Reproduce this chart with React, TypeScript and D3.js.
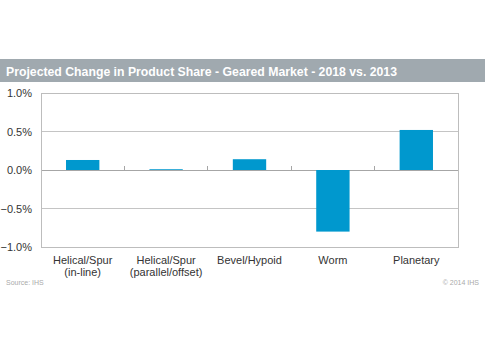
import React, { useEffect, useRef } from "react";
import * as d3 from "d3";

// data
const categories = [
  "Helical/Spur\n(in-line)",
  "Helical/Spur\n(parallel/offset)",
  "Bevel/Hypoid",
  "Worm",
  "Planetary",
];
const shareChange = [0.13, 0.01, 0.14, -0.8, 0.52];
const yTicks = [-1.0, -0.5, 0.0, 0.5, 1.0];

const W = 485;
const H = 350;

const App: React.FC = () => {
  const ref = useRef<SVGSVGElement | null>(null);

  useEffect(() => {
    const svg = d3.select(ref.current);
    svg.selectAll("*").remove();

    const left = 41;
    const right = 458;
    const top = 93;
    const bottom = 247;
    const font = "'Liberation Sans', Arial, sans-serif";

    // title band
    svg
      .append("rect")
      .attr("x", 0)
      .attr("y", 59)
      .attr("width", W)
      .attr("height", 23)
      .attr("fill", "#a0a9af");
    svg
      .append("text")
      .attr("x", 6)
      .attr("y", 76)
      .attr("fill", "#fff")
      .style("font-family", font)
      .style("font-size", "13px")
      .style("font-weight", "bold")
      .attr("textLength", 391)
      .attr("lengthAdjust", "spacingAndGlyphs")
      .text("Projected Change in Product Share - Geared Market - 2018 vs. 2013");

    const x = d3
      .scaleBand<number>()
      .domain(d3.range(categories.length))
      .range([left, right])
      .paddingInner(0.6)
      .paddingOuter(0.3);

    const y = d3.scaleLinear().domain([-1, 1]).range([bottom, top]);

    // gridlines
    svg
      .append("g")
      .selectAll("line")
      .data(yTicks)
      .join("line")
      .attr("x1", left)
      .attr("x2", right)
      .attr("y1", (d) => y(d))
      .attr("y2", (d) => y(d))
      .attr("stroke", (d) => (d === 0 ? "#a6a6a6" : "#c4c4c4"))
      .attr("stroke-width", 1)
      .attr("shape-rendering", "crispEdges");

    // frame
    svg
      .append("rect")
      .attr("x", left)
      .attr("y", top)
      .attr("width", right - left)
      .attr("height", bottom - top)
      .attr("fill", "none")
      .attr("stroke", "#bdbdbd")
      .attr("shape-rendering", "crispEdges");

    // category ticks on the zero line
    const step = (right - left) / categories.length;
    svg
      .append("g")
      .selectAll("line")
      .data(d3.range(1, categories.length))
      .join("line")
      .attr("x1", (i) => left + i * step)
      .attr("x2", (i) => left + i * step)
      .attr("y1", y(0) - 4)
      .attr("y2", y(0))
      .attr("stroke", "#a6a6a6")
      .attr("shape-rendering", "crispEdges");

    // bars
    svg
      .append("g")
      .selectAll("rect")
      .data(shareChange)
      .join("rect")
      .attr("x", (_, i) => x(i) as number)
      .attr("width", x.bandwidth())
      .attr("y", (d) => y(Math.max(0, d)))
      .attr("height", (d) => Math.abs(y(d) - y(0)))
      .attr("fill", "#0098ce");

    // y labels
    svg
      .append("g")
      .selectAll("text")
      .data(yTicks)
      .join("text")
      .attr("x", 32)
      .attr("y", (d) => y(d) + 4)
      .attr("text-anchor", "end")
      .attr("fill", "#333")
      .style("font-family", font)
      .style("font-size", "11px")
      .text((d) => d3.format(".1f")(d) + "%");

    // x labels
    const xl = svg
      .append("g")
      .selectAll("text")
      .data(categories)
      .join("text")
      .attr("text-anchor", "middle")
      .attr("fill", "#333")
      .style("font-family", font)
      .style("font-size", "11px");
    xl.each(function (d, i) {
      const t = d3.select(this);
      const cx = (x(i) as number) + x.bandwidth() / 2;
      d.split("\n").forEach((line, k) => {
        t.append("tspan")
          .attr("x", cx)
          .attr("y", 264 + k * 12)
          .text(line);
      });
    });

    // footer
    svg
      .append("text")
      .attr("x", 6)
      .attr("y", 285)
      .attr("fill", "#aaa")
      .style("font-family", font)
      .style("font-size", "7px")
      .text("Source: IHS");
    svg
      .append("text")
      .attr("x", 479)
      .attr("y", 285)
      .attr("text-anchor", "end")
      .attr("fill", "#aaa")
      .style("font-family", font)
      .style("font-size", "7px")
      .text("© 2014 IHS");
  }, []);

  return (
    <svg
      ref={ref}
      width={W}
      height={H}
      style={{ position: "absolute", left: 0, top: 0, background: "#fff" }}
    />
  );
};

export default App;
